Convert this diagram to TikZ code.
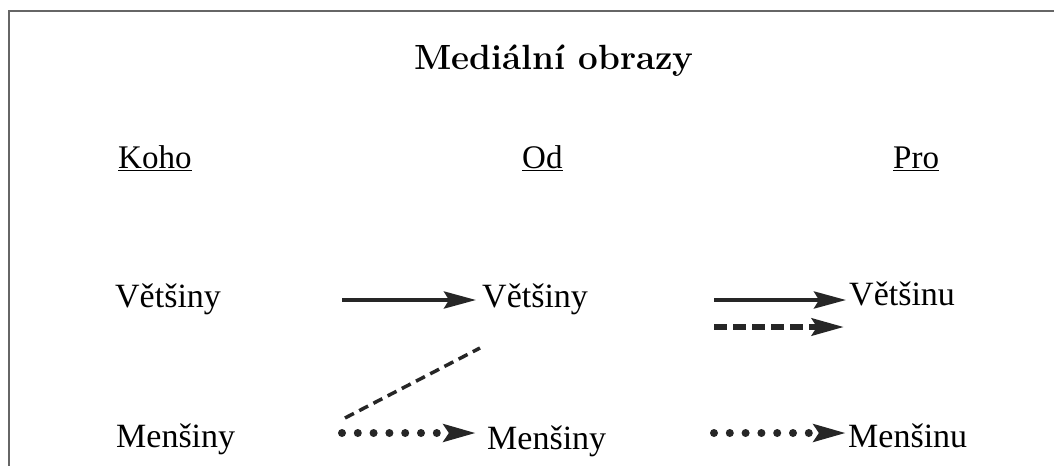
\documentclass[tikz,border=0pt]{standalone}
\usepackage{fontspec}
\newfontfamily\labfont{Liberation Serif}
\usetikzlibrary{arrows.meta}
\tikzset{
  lab/.style={anchor=base west,inner sep=0pt,font=\labfont\fontsize{34}{40}\selectfont},
  head/.style={anchor=base west,inner sep=0pt,font=\labfont\fontsize{33}{38}\selectfont},
  tip/.style={-{Stealth[length=32pt,width=17pt,inset=5pt]}},
  solidarrow/.style={tip,line width=4pt,draw=black!85},
  dashedarrow/.style={tip,line width=6pt,draw=black!85,dash pattern=on 13pt off 6pt},
  dottedarrow/.style={tip,line width=8pt,draw=black!85,line cap=round,dash pattern=on 0pt off 15.8pt},
  diagline/.style={line width=3.5pt,draw=black!85,dash pattern=on 10pt off 6pt},
  frame/.style={draw=black!60,line width=2pt}
}
\begin{document}
\begin{tikzpicture}[x=1pt,y=-1pt]
\useasboundingbox (0,0) rectangle (1054,466);
\fill[white] (0,0) rectangle (1054,466);
\coordinate (fa) at (1054,11);
\coordinate (fb) at (9,11);
\coordinate (fc) at (9,466);
\draw[frame] (fa) -- (fb) -- (fc);
\node[anchor=base,inner sep=0pt,font=\bfseries\fontsize{35}{40}\selectfont] (title) at (554,69) {Mediální obrazy};
\node[head] (koho) at (118,168) {\underline{Koho}};
\node[head] (od) at (522,168) {\underline{Od}};
\node[head] (pro) at (893,168) {\underline{Pro}};
\node[lab] (v1) at (115,307) {Většiny};
\node[lab] (v2) at (482,307) {Většiny};
\node[lab] (v3) at (849,305) {Většinu};
\node[lab] (m1) at (116,447) {Menšiny};
\node[lab] (m2) at (487,449) {Menšiny};
\node[lab] (m3) at (848,447) {Menšinu};
\coordinate (a1s) at (342,300); \coordinate (a1e) at (476,300);
\coordinate (a2s) at (714,300); \coordinate (a2e) at (846,300);
\coordinate (a3s) at (714,327); \coordinate (a3e) at (844,327);
\coordinate (a4s) at (342,433); \coordinate (a4e) at (476,433);
\coordinate (a5s) at (714,433); \coordinate (a5e) at (846,433);
\coordinate (ds) at (345,418); \coordinate (de) at (480,348);
\draw[solidarrow] (a1s) -- (a1e);
\draw[solidarrow] (a2s) -- (a2e);
\draw[dashedarrow] (a3s) -- (a3e);
\draw[dottedarrow] (a4s) -- (a4e);
\draw[dottedarrow] (a5s) -- (a5e);
\draw[diagline] (ds) -- (de);
\end{tikzpicture}
\end{document}
